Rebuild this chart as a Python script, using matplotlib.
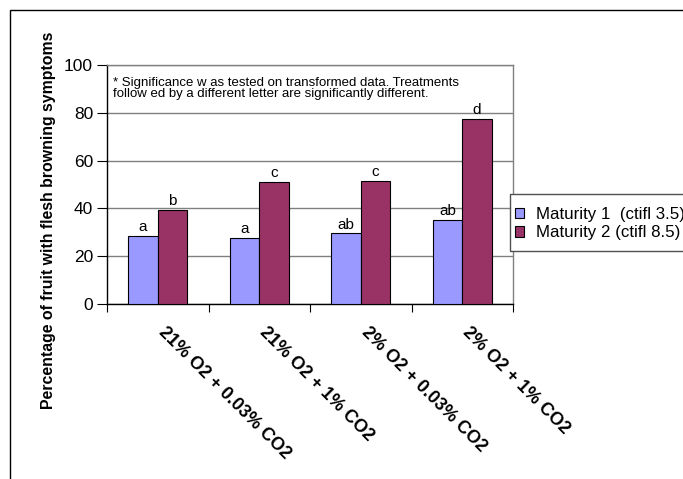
import numpy as np
import matplotlib.pyplot as plt
import matplotlib.transforms as mtransforms
from matplotlib.patches import Rectangle

plt.rcParams['font.family'] = ['Liberation Sans', 'DejaVu Sans']

# Data
treatments = ["21% O2 + 0.03% CO2", "21% O2 + 1% CO2",
              "2% O2 + 0.03% CO2", "2% O2 + 1% CO2"]
maturity1 = [28.5, 27.5, 29.5, 35.2]
maturity2 = [39.4, 51.0, 51.6, 77.6]
letters1 = ["a", "a", "ab", "ab"]
letters2 = ["b", "c", "c", "d"]
labels = ["Maturity 1  (ctifl 3.5)", "Maturity 2 (ctifl 8.5)"]
colors = ["#9999FF", "#993366"]
note = ["* Significance w as tested on transformed data. Treatments",
        "follow ed by a different letter are significantly different."]

W, H = 683, 479
fig = plt.figure(figsize=(W / 100, H / 100), dpi=100)
ax = fig.add_axes([107 / W, 1 - 304 / H, 406 / W, 239 / H])

x = np.arange(len(treatments))
bw = 0.29
b1 = ax.bar(x - bw / 2, maturity1, bw, color=colors[0], edgecolor="black",
            linewidth=0.8, zorder=3, label=labels[0])
b2 = ax.bar(x + bw / 2, maturity2, bw, color=colors[1], edgecolor="black",
            linewidth=0.8, zorder=3, label=labels[1])

# significance letters
for bars, lets in [(b1, letters1), (b2, letters2)]:
    for r, t in zip(bars, lets):
        ax.annotate(t, (r.get_x() + r.get_width() / 2, r.get_height()),
                    xytext=(0, 3.5), textcoords="offset points",
                    ha="center", va="baseline", fontsize=11)

ax.set_xlim(-0.5, 3.5)
ax.set_ylim(0, 100)
ax.set_yticks([0, 20, 40, 60, 80, 100])
ax.yaxis.grid(True, color="#808080", linewidth=1, zorder=0)
ax.tick_params(axis="y", direction="out", length=7, width=0.8,
               labelsize=12.5, pad=3)

ax.set_xticks(x)
ax.set_xticklabels(treatments, fontsize=13, fontweight="bold")
ax.set_xticks(np.arange(-0.5, 4, 1), minor=True)
ax.tick_params(axis="x", which="major", length=0, pad=14)
ax.tick_params(axis="x", which="minor", direction="out", length=6, width=0.8)
shift = mtransforms.ScaledTranslation(9 / 100, 0, fig.dpi_scale_trans)
for lab in ax.get_xticklabels():
    lab.set_rotation(-45)
    lab.set_ha("left")
    lab.set_va("top")
    lab.set_rotation_mode("anchor")
    lab.set_transform(lab.get_transform() + shift)

for s in ["top", "right"]:
    ax.spines[s].set_color("#808080")
    ax.spines[s].set_linewidth(1)
for s in ["left", "bottom"]:
    ax.spines[s].set_color("black")
    ax.spines[s].set_linewidth(1)

ax.text(0.015, 0.925, note[0], transform=ax.transAxes, fontsize=9.5,
        va="center", ha="left")
ax.text(0.015, 0.880, note[1], transform=ax.transAxes, fontsize=9.5,
        va="center", ha="left")

fig.text(49 / W, 1 - 220 / H, "Percentage of fruit with flesh browning symptoms",
         rotation=90, ha="center", va="center", fontsize=11.4, fontweight="bold")

# legend runs past the right edge, as in the original chart
leg = fig.legend(handles=[b1, b2], labels=labels, loc="upper left",
                 bbox_to_anchor=(510 / W, 1 - 202 / H), fontsize=12.2,
                 frameon=False, handlelength=0.55, handleheight=0.55,
                 handletextpad=0.7, borderpad=0.3, labelspacing=0.2,
                 borderaxespad=0)
fig.patches.append(Rectangle((510 / W, 1 - 251 / H), 0.5, 57 / H,
                             transform=fig.transFigure, facecolor="white",
                             edgecolor="#505050", linewidth=1, zorder=4))
leg.set_zorder(5)

# outer chart border (runs off the right and bottom edges)
fig.patches.append(Rectangle((9.5 / W, -0.1), 1.2, 1.1 - 10 / H,
                             transform=fig.transFigure, fill=False,
                             edgecolor="black", linewidth=1))

fig.savefig("out.png", dpi=100)
